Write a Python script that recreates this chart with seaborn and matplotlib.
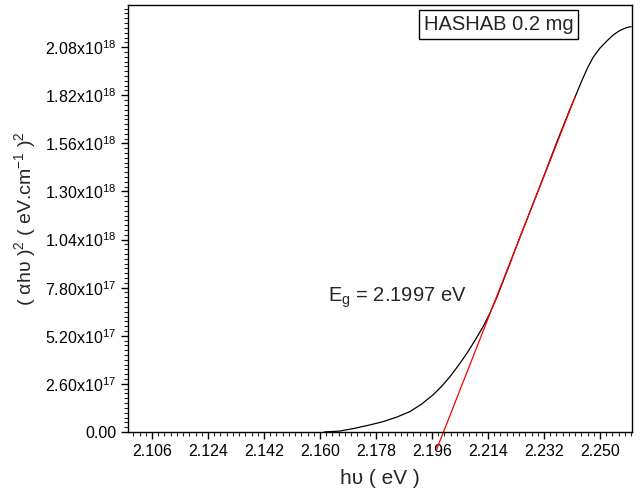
import numpy as np
import pandas as pd
import matplotlib
matplotlib.use("Agg")
import matplotlib.pyplot as plt
from matplotlib.ticker import MultipleLocator, FixedLocator, FuncFormatter
import seaborn as sns

# photon energy (eV) and (alpha h nu)^2 values
energy = [2.1614, 2.1664, 2.1712, 2.1760, 2.1803, 2.1846, 2.1889, 2.1926,
          2.1963, 2.1990, 2.2018, 2.2045, 2.2073, 2.2100, 2.2124, 2.2147,
          2.2169, 2.2206, 2.2243, 2.2283, 2.2323, 2.2362, 2.2400, 2.2420,
          2.2442, 2.2460, 2.2478, 2.2500, 2.2523, 2.2544, 2.2564, 2.2584,
          2.2600]
absorb = [0.0, 0.005e18, 0.020e18, 0.038e18, 0.056e18, 0.080e18, 0.110e18, 0.150e18,
          0.200e18, 0.245e18, 0.299e18, 0.360e18, 0.427e18, 0.500e18, 0.568e18, 0.645e18,
          0.730e18, 0.890e18, 1.054e18, 1.225e18, 1.398e18, 1.570e18, 1.730e18, 1.811e18,
          1.900e18, 1.968e18, 2.025e18, 2.075e18, 2.115e18, 2.148e18, 2.170e18, 2.185e18,
          2.191e18]

# linear fit for the band gap
eg = 2.1997
fit_x = [2.1974, 2.2420]
fit_slope = 4.28e19

xticks = [2.106, 2.124, 2.142, 2.160, 2.178, 2.196, 2.214, 2.232, 2.250]
yticks = [0.0, 2.60e17, 5.20e17, 7.80e17, 1.04e18, 1.30e18, 1.56e18, 1.82e18, 2.08e18]

df = pd.DataFrame({"E": energy, "A": absorb})
fit = pd.DataFrame({"E": fit_x, "A": [fit_slope * (x - eg) for x in fit_x]})

sns.set_style("ticks")
plt.rcParams["font.family"] = ["Liberation Sans", "DejaVu Sans"]
plt.rcParams["mathtext.fontset"] = "custom"
plt.rcParams["mathtext.rm"] = "Liberation Sans"
plt.rcParams["mathtext.it"] = "Liberation Sans:italic"

fig = plt.figure(figsize=(6.41, 5.04), dpi=100)
ax = fig.add_axes([0.1997, 0.1429, 0.7863, 0.8472])

sns.lineplot(data=df, x="E", y="A", color="black", linewidth=0.9, ax=ax)
sns.lineplot(data=fit, x="E", y="A", color="red", linewidth=0.9, ax=ax)
for ln in ax.lines[1:]:
    ln.set_clip_on(False)

ax.set_xlim(2.0983, 2.2603)
ax.set_ylim(0, 2.308e18)

def fmt_y(v, pos):
    if v == 0:
        return "0.00"
    e = int(np.floor(np.log10(v)))
    return "%.2fx10$^{%d}$" % (v / 10**e, e)

ax.xaxis.set_major_locator(FixedLocator(xticks))
ax.xaxis.set_major_formatter(FuncFormatter(lambda v, p: "%.3f" % v))
ax.xaxis.set_minor_locator(MultipleLocator(0.002))
ax.yaxis.set_major_locator(FixedLocator(yticks))
ax.yaxis.set_major_formatter(FuncFormatter(fmt_y))
ax.yaxis.set_minor_locator(MultipleLocator(2.6e16))

ax.tick_params(which="major", direction="out", length=5, width=1, labelsize=11.5, colors="black")
ax.tick_params(which="minor", direction="out", length=3, width=0.8)
for s in ax.spines.values():
    s.set_visible(True)
    s.set_linewidth(1)
    s.set_color("black")

ax.set_xlabel("hυ ( eV )", fontsize=15, labelpad=7)
ax.set_ylabel("( αhυ )$^2$ ( eV.cm$^{-1}$ )$^2$", fontsize=14, labelpad=5)

ax.text(0.735, 0.955, "HASHAB 0.2 mg", transform=ax.transAxes, fontsize=14.5,
        ha="center", va="center",
        bbox=dict(boxstyle="square,pad=0.25", facecolor="white", edgecolor="black", linewidth=1))
ax.text(2.1847, 7.25e17, "E$_\\mathrm{g}$ = 2.1997 eV", fontsize=14.5, ha="center", va="center")

fig.savefig("out.png", dpi=100)
